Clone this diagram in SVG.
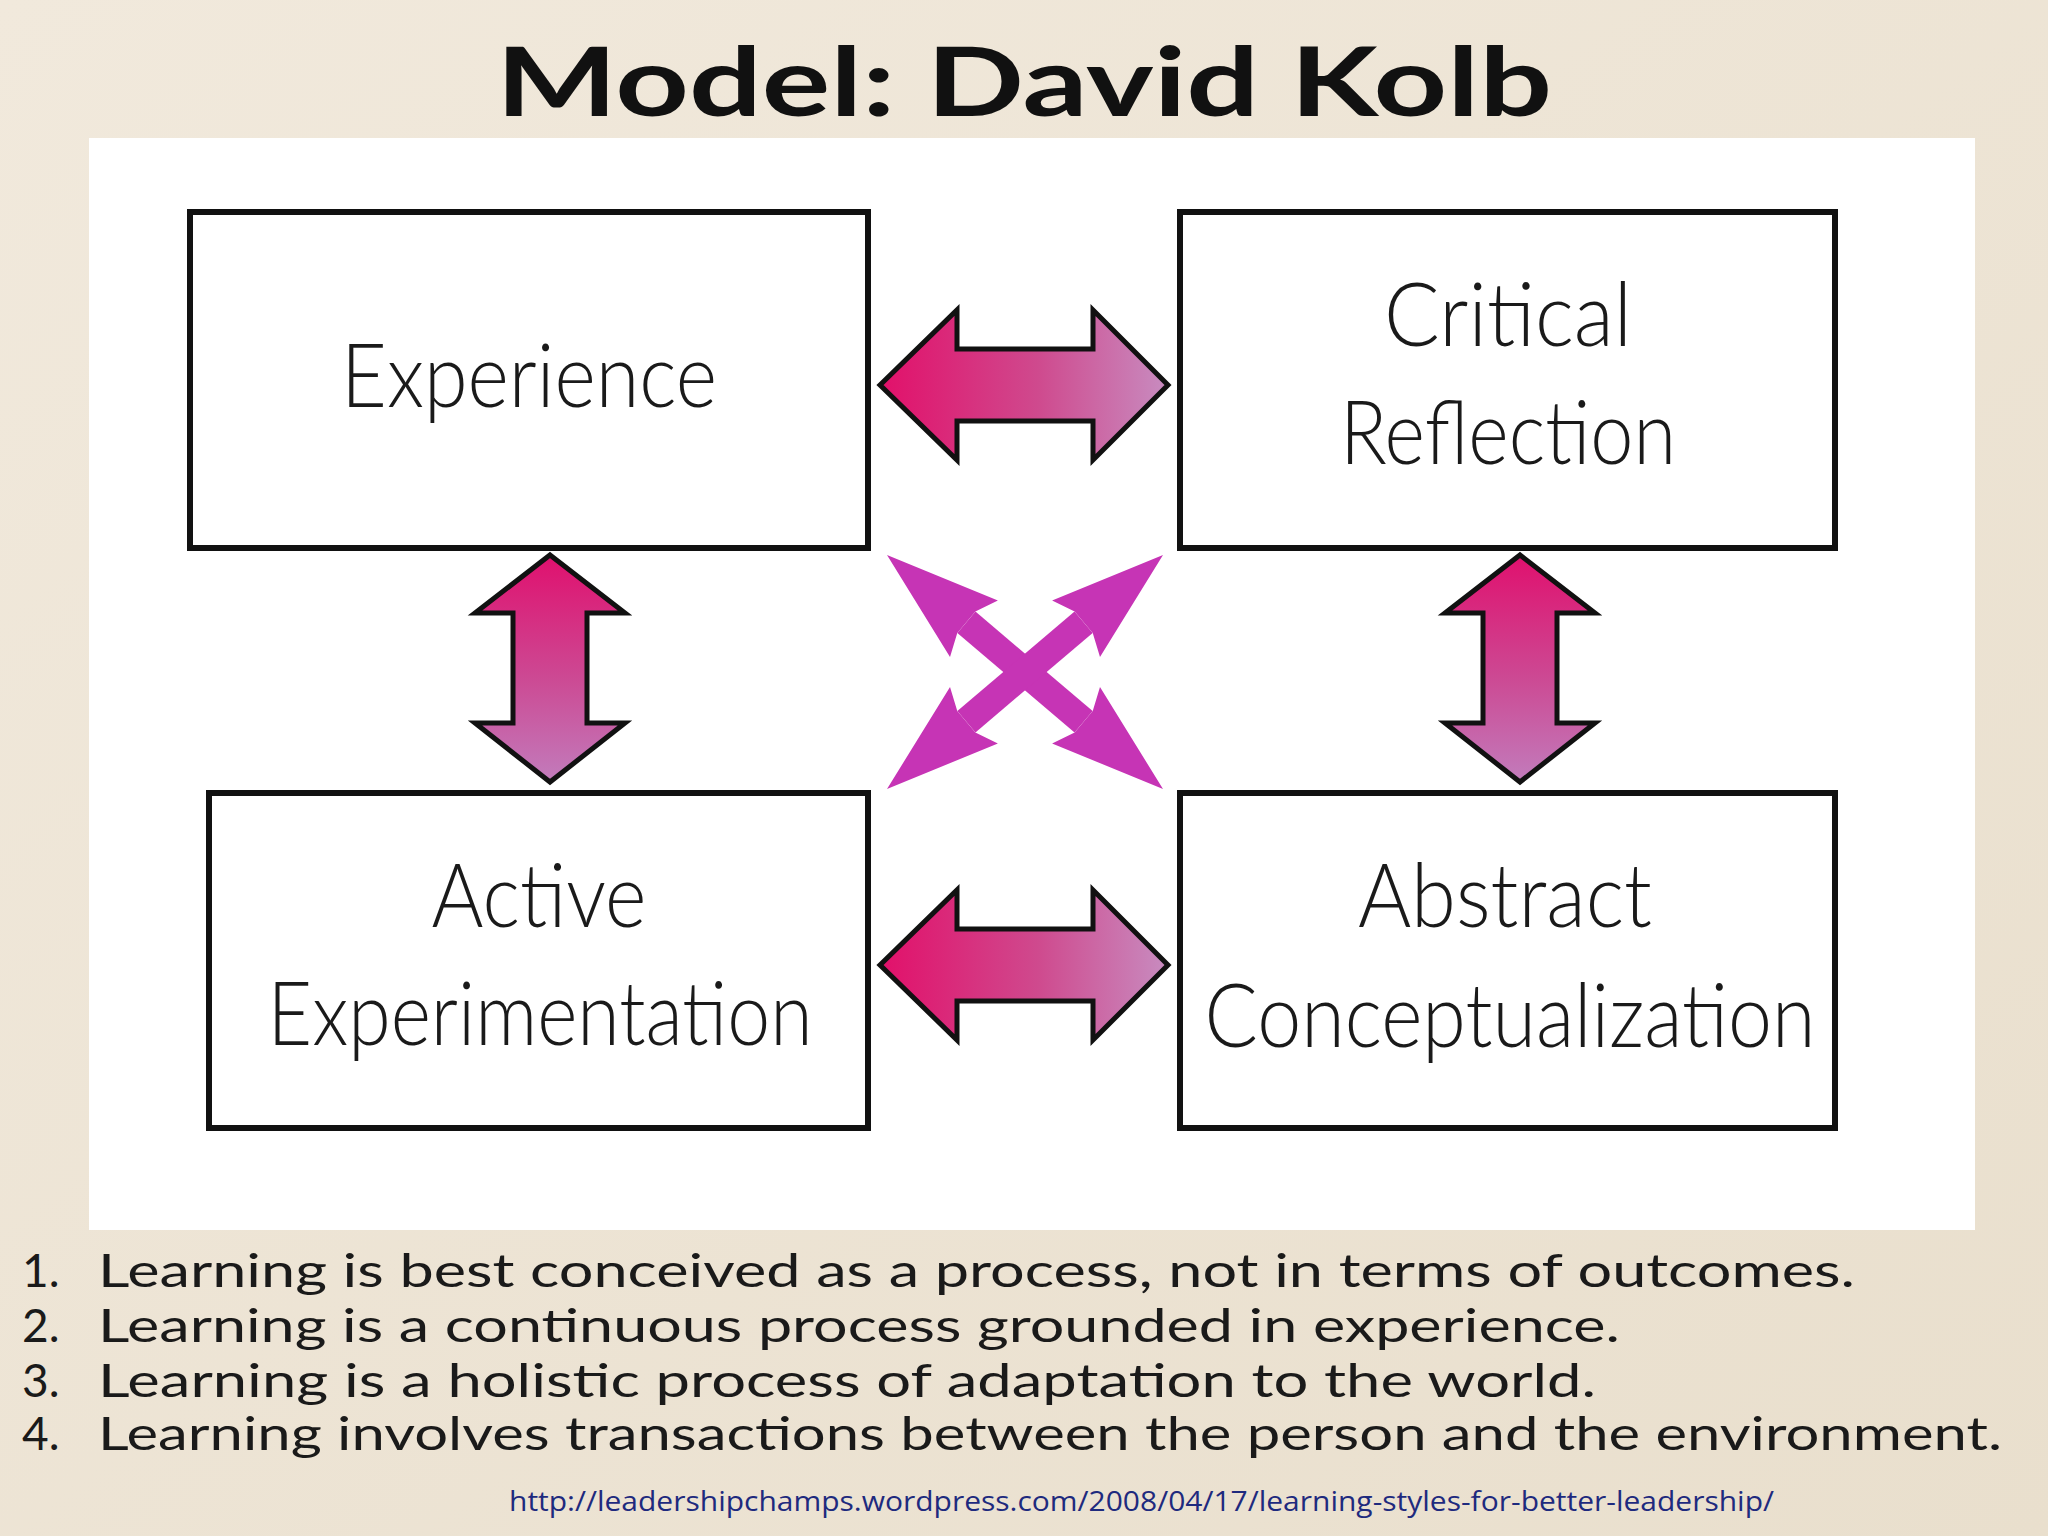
<svg xmlns="http://www.w3.org/2000/svg" width="2048" height="1536" viewBox="0 0 2048 1536">
  <defs>
    <linearGradient id="bg" x1="0" y1="0" x2="1" y2="1">
      <stop offset="0" stop-color="#f1e9dc"/>
      <stop offset="1" stop-color="#e9dfcd"/>
    </linearGradient>
    <linearGradient id="gh" x1="0" y1="0" x2="1" y2="0">
      <stop offset="0" stop-color="#e2106a"/>
      <stop offset="0.55" stop-color="#cf4a8e"/>
      <stop offset="1" stop-color="#c88cc0"/>
    </linearGradient>
    <linearGradient id="gv" x1="0" y1="0" x2="0" y2="1">
      <stop offset="0" stop-color="#e0106e"/>
      <stop offset="0.55" stop-color="#cc4a94"/>
      <stop offset="1" stop-color="#c27cbc"/>
    </linearGradient>
    <polygon id="head" points="0,0 114,37 104,14 104,-14 114,-37"/>
  </defs>
  <style>
    .box { fill: #ffffff; stroke: #111111; stroke-width: 6; }
    .lbl { font-family: Lato, "Liberation Sans", sans-serif; font-weight: 300; font-size: 88px; fill: #1a1a1a; text-anchor: middle; }
    .dbl { stroke: #111111; stroke-width: 5; stroke-linejoin: miter; }
    .x { fill: #c634b5; }
    .xs { stroke: #c634b5; stroke-width: 28; }
    .item { font-family: Lato, "Liberation Sans", sans-serif; font-size: 46px; fill: #1a1a1a; }
  </style>

  <rect x="0" y="0" width="2048" height="1536" fill="url(#bg)"/>
  <rect x="89" y="138" width="1886" height="1092" fill="#ffffff"/>

  <text x="1024" y="116" font-family="Lato, 'Liberation Sans', sans-serif" font-weight="bold" font-size="96" fill="#111111" text-anchor="middle" textLength="1056" lengthAdjust="spacingAndGlyphs">Model: David Kolb</text>

  <g id="node-experience">
    <rect class="box" x="190" y="212" width="678" height="336"/>
    <text class="lbl" x="529" y="407" textLength="376" lengthAdjust="spacingAndGlyphs">Experience</text>
  </g>
  <g id="node-critical-reflection">
    <rect class="box" x="1180" y="212" width="655" height="336"/>
    <text class="lbl" x="1508" y="346" textLength="248" lengthAdjust="spacingAndGlyphs">Critical</text>
    <text class="lbl" x="1508" y="464" textLength="336" lengthAdjust="spacingAndGlyphs">Reflection</text>
  </g>
  <g id="node-active-experimentation">
    <rect class="box" x="209" y="793" width="659" height="335"/>
    <text class="lbl" x="539" y="927" textLength="215" lengthAdjust="spacingAndGlyphs">Active</text>
    <text class="lbl" x="540" y="1045" textLength="545" lengthAdjust="spacingAndGlyphs">Experimentation</text>
  </g>
  <g id="node-abstract-conceptualization">
    <rect class="box" x="1180" y="793" width="655" height="335"/>
    <text class="lbl" x="1505" y="927" textLength="294" lengthAdjust="spacingAndGlyphs">Abstract</text>
    <text class="lbl" x="1510" y="1047" textLength="611" lengthAdjust="spacingAndGlyphs">Conceptualization</text>
  </g>

  <g id="connectors">
    <polygon class="dbl" fill="url(#gh)" points="880,385 957,310 957,349 1093,349 1093,310 1168,385 1093,460 1093,421 957,421 957,460"/>
    <polygon class="dbl" fill="url(#gh)" points="880,965 957,890 957,929 1093,929 1093,890 1168,965 1093,1040 1093,1001 957,1001 957,1040"/>
    <polygon class="dbl" fill="url(#gv)" points="550,555 625,613 587,613 587,723 625,723 550,782 475,723 513,723 513,613 475,613"/>
    <polygon class="dbl" fill="url(#gv)" points="1520,555 1595,613 1557,613 1557,723 1595,723 1520,782 1445,723 1483,723 1483,613 1445,613"/>
    <g id="cross">
      <line class="xs" x1="966.4" y1="622.3" x2="1083.6" y2="721.7"/>
      <line class="xs" x1="1083.6" y1="622.3" x2="966.4" y2="721.7"/>
      <use href="#head" class="x" transform="translate(887,555) rotate(40.3)"/>
      <use href="#head" class="x" transform="translate(1163,555) rotate(139.7)"/>
      <use href="#head" class="x" transform="translate(887,789) rotate(-40.3)"/>
      <use href="#head" class="x" transform="translate(1163,789) rotate(-139.7)"/>
    </g>
  </g>

  <g id="notes">
    <text class="item" x="22" y="1287">1.</text>
    <text class="item" x="98" y="1287" textLength="1757" lengthAdjust="spacingAndGlyphs">Learning is best conceived as a process, not in terms of outcomes.</text>
    <text class="item" x="22" y="1342">2.</text>
    <text class="item" x="98" y="1342" textLength="1522" lengthAdjust="spacingAndGlyphs">Learning is a continuous process grounded in experience.</text>
    <text class="item" x="22" y="1397">3.</text>
    <text class="item" x="98" y="1397" textLength="1498" lengthAdjust="spacingAndGlyphs">Learning is a holistic process of adaptation to the world.</text>
    <text class="item" x="22" y="1450">4.</text>
    <text class="item" x="98" y="1450" textLength="1904" lengthAdjust="spacingAndGlyphs">Learning involves transactions between the person and the environment.</text>
    <text x="509" y="1511" font-family="'Open Sans', 'Liberation Sans', sans-serif" font-size="28" fill="#1e2a7e" textLength="1265" lengthAdjust="spacingAndGlyphs">http://leadershipchamps.wordpress.com/2008/04/17/learning-styles-for-better-leadership/</text>
  </g>
</svg>
